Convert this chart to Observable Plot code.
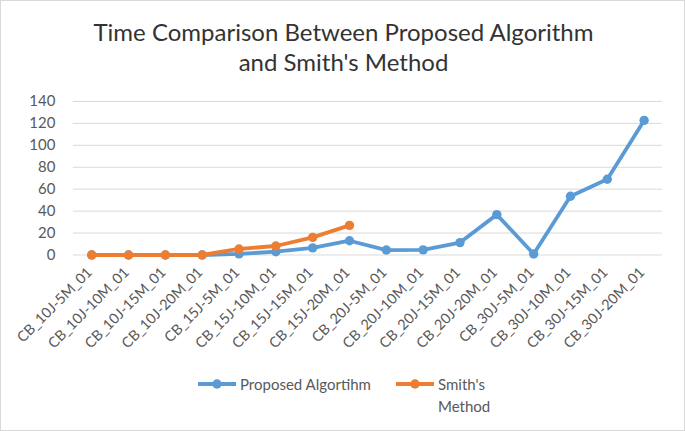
<!DOCTYPE html>
<html>
<head>
<meta charset="utf-8">
<script src="https://cdn.jsdelivr.net/npm/d3@7"></script>
<script src="https://cdn.jsdelivr.net/npm/@observablehq/plot@0.6"></script>
<style>
  html, body { margin: 0; padding: 0; background: #fff; }
  #chart { position: relative; width: 685px; height: 431px; box-sizing: border-box; border: 1px solid #d9d9d9; background: #fff; font-family: Lato, "Open Sans", sans-serif; overflow: hidden; }
  #title { position: absolute; left: 0; top: 16px; width: 685px; text-align: center; font-size: 24px; line-height: 30px; color: #333; }
  #plot { position: absolute; left: -1px; top: 79px; }
  .leg { position: absolute; font-size: 15px; color: #595959; line-height: 22px; display: flex; align-items: flex-start; }
  .leg svg { margin-top: 4px; margin-right: 4px; }
</style>
</head>
<body>
<div id="chart">
  <div id="title">Time Comparison Between Proposed Algorithm<br>and Smith's Method</div>
  <div id="plot"></div>
  <div class="leg" id="leg1" style="left:197px; top:372px;"></div>
  <div class="leg" id="leg2" style="left:395px; top:372px;"></div>
</div>
<script>
const categories = ["CB_10J-5M_01","CB_10J-10M_01","CB_10J-15M_01","CB_10J-20M_01",
  "CB_15J-5M_01","CB_15J-10M_01","CB_15J-15M_01","CB_15J-20M_01",
  "CB_20J-5M_01","CB_20J-10M_01","CB_20J-15M_01","CB_20J-20M_01",
  "CB_30J-5M_01","CB_30J-10M_01","CB_30J-15M_01","CB_30J-20M_01"];
const proposed = [0, 0, 0, 0, 1, 3, 6.5, 13, 4.5, 4.7, 11.3, 36.8, 0.9, 53.5, 69, 122.7];
const smith = [0, 0, 0, 0, 5.5, 8.2, 16.1, 27];
const yTicks = [0, 20, 40, 60, 80, 100, 120, 140];
const seriesNames = ["Proposed Algortihm", "Smith's Method"];
const colors = ["#5B9BD5", "#ED7D31"];

const propData = proposed.map((v, i) => ({cat: categories[i], value: v}));
const smithData = smith.map((v, i) => ({cat: categories[i], value: v}));

const plot = Plot.plot({
  width: 686,
  height: 275,
  marginTop: 21,
  marginLeft: 73,
  marginRight: 22,
  marginBottom: 100,
  style: {fontFamily: "Lato, 'Open Sans', sans-serif", fontSize: "14px", color: "#595959", background: "transparent"},
  x: {type: "point", domain: categories, padding: 0.5, round: false, label: null},
  y: {domain: [0, 140], ticks: yTicks, label: null},
  marks: [
    Plot.gridY(yTicks, {stroke: "#d9d9d9", strokeOpacity: 1, strokeWidth: 1}),
    Plot.axisY(yTicks, {tickSize: 0, tickPadding: 18, label: null, fontSize: 15, fill: "#595959"}),
    Plot.axisX({tickSize: 0, tickRotate: -45, tickPadding: 15, dx: -2, label: null, fontSize: 14.5, fill: "#595959"}),
    Plot.line(propData, {x: "cat", y: "value", stroke: colors[0], strokeWidth: 3.8}),
    Plot.dot(propData, {x: "cat", y: "value", fill: colors[0], r: 4.7}),
    Plot.line(smithData, {x: "cat", y: "value", stroke: colors[1], strokeWidth: 3.8}),
    Plot.dot(smithData, {x: "cat", y: "value", fill: colors[1], r: 4.7})
  ]
});
document.getElementById("plot").appendChild(plot);

function swatch(color) {
  return `<svg width="38" height="14"><line x1="0" y1="7" x2="38" y2="7" stroke="${color}" stroke-width="3.8"/><circle cx="19" cy="7" r="4.7" fill="${color}"/></svg>`;
}
document.getElementById("leg1").innerHTML = swatch(colors[0]) + `<span>${seriesNames[0]}</span>`;
document.getElementById("leg2").innerHTML = swatch(colors[1]) + `<span>Smith's<br>Method</span>`;
</script>
</body>
</html>
